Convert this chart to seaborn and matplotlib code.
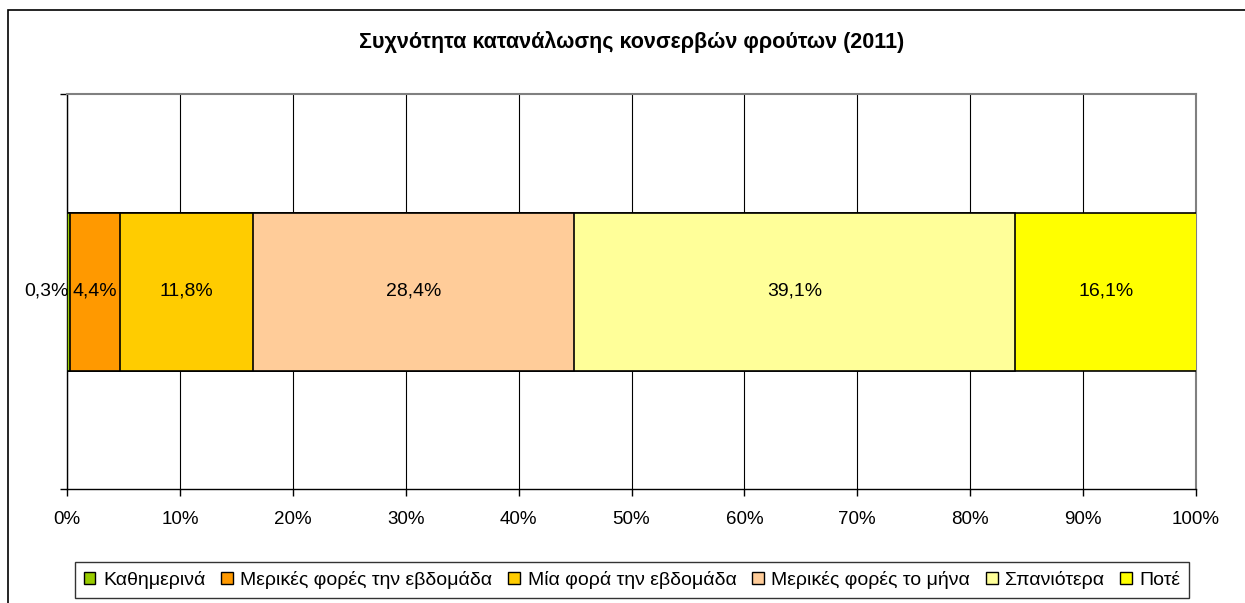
import matplotlib
matplotlib.use("Agg")
import matplotlib.pyplot as plt
import seaborn as sns
import numpy as np
import pandas as pd
from matplotlib.patches import Rectangle

categories = ["Καθημερινά", "Μερικές φορές την εβδομάδα", "Μία φορά την εβδομάδα",
              "Μερικές φορές το μήνα", "Σπανιότερα", "Ποτέ"]
values = [0.3, 4.4, 11.8, 28.4, 39.1, 16.1]
colors = ["#99CC00", "#FF9900", "#FFCC00", "#FFCC99", "#FFFF99", "#FFFF00"]
xticks = [0, 10, 20, 30, 40, 50, 60, 70, 80, 90, 100]
title = "Συχνότητα κατανάλωσης κονσερβών φρούτων (2011)"

sns.set_theme(style="white")
plt.rcParams["font.family"] = ["Liberation Sans", "DejaVu Sans"]
plt.rcParams["text.color"] = "black"
plt.rcParams["xtick.color"] = "black"
plt.rcParams["ytick.color"] = "black"

fig = plt.figure(figsize=(12.45, 6.03), dpi=100)
ax = fig.add_axes([67/1245, 1-489/603, (1196-67)/1245, (489-94)/603])

cum = np.cumsum(values)
starts = cum - np.array(values)

# draw from largest cumulative to smallest so each segment is visible
for i in range(len(categories) - 1, -1, -1):
    d = pd.DataFrame({"y": ["a"], "x": [cum[i]]})
    sns.barplot(data=d, x="x", y="y", orient="h", color=colors[i], saturation=1,
                width=0.4, edgecolor="black", linewidth=1.2, ax=ax, zorder=3)

for i, v in enumerate(values):
    lab = f"{v:.1f}%".replace(".", ",")
    if i == 0:
        # tiny segment: label sits just left of the neighbouring label
        ax.text(starts[i] + v * 0.6, 0, lab, ha="right", va="center",
                fontsize=14, color="black", zorder=5)
    else:
        ax.text(starts[i] + v / 2, 0, lab, ha="center", va="center",
                fontsize=14, color="black", zorder=5)

ax.set_xlim(0, 100)
ax.set_ylim(0.5, -0.5)
ax.set_xticks(xticks)
ax.set_xticklabels([f"{t}%" for t in xticks], fontsize=13.5)
ax.set_yticks([-0.5, 0.5])
ax.set_yticklabels([])
ax.set_xlabel("")
ax.set_ylabel("")
ax.tick_params(axis="x", direction="out", length=5, width=1, color="black", pad=11, bottom=True)
ax.tick_params(axis="y", direction="out", length=5, width=1, color="black", left=True)
ax.grid(axis="x", color="black", linewidth=0.8, zorder=0)
ax.set_axisbelow(True)
for s in ["left", "bottom"]:
    ax.spines[s].set_color("black")
    ax.spines[s].set_linewidth(1)
for s in ["top", "right"]:
    ax.spines[s].set_color("#808080")
    ax.spines[s].set_linewidth(1.5)

fig.text(632/1245, 1-42/603, title, ha="center", va="center", fontsize=15.5,
         fontweight="bold", color="black")

handles = [Rectangle((0, 0), 1, 1, facecolor=c, edgecolor="black", linewidth=1) for c in colors]
leg = fig.legend(handles, categories, loc="center", bbox_to_anchor=(632/1245, 1-580/603),
                 ncol=6, frameon=True, fontsize=14, handlelength=0.6, handleheight=0.6,
                 handletextpad=0.4, columnspacing=0.8, borderpad=0.45, fancybox=False)
leg.get_frame().set_edgecolor("black")
leg.get_frame().set_linewidth(1)

fig.patches.append(Rectangle((8/1245, -0.1), 1.2, 1.1 - 10/603, transform=fig.transFigure,
                             fill=False, edgecolor="black", linewidth=1.2))

fig.savefig("out.png", dpi=100)
